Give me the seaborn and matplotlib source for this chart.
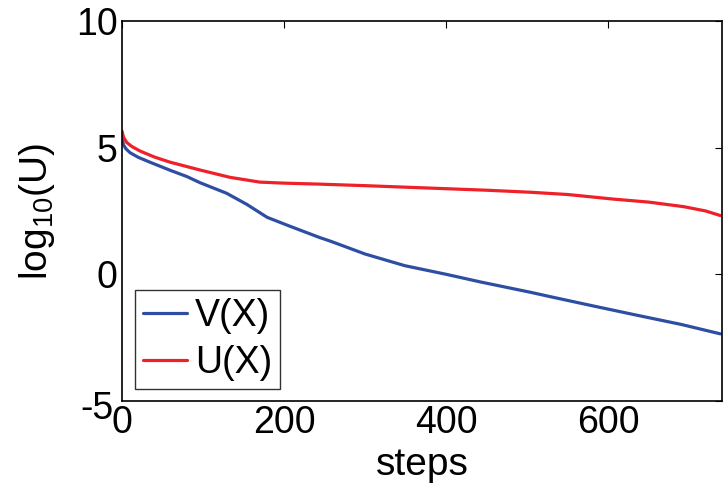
import numpy as np
import pandas as pd
import matplotlib
matplotlib.use("Agg")
import matplotlib.pyplot as plt
import seaborn as sns
from matplotlib.lines import Line2D

steps_v = [0, 2, 5, 10, 20, 35, 60, 80, 96, 129, 154, 179, 207, 244, 257, 300, 349, 400, 442, 504, 528, 580, 633, 690, 738]
v_vals = [5.35, 5.1, 4.95, 4.8, 4.62, 4.42, 4.1, 3.86, 3.62, 3.2, 2.76, 2.25, 1.9, 1.45, 1.31, 0.8, 0.34, 0.0, -0.3, -0.71, -0.88, -1.24, -1.6, -1.98, -2.35]
steps_u = [0, 2, 6, 12, 22, 40, 59, 96, 133, 170, 200, 244, 300, 350, 400, 450, 504, 550, 606, 650, 693, 720, 738]
u_vals = [5.65, 5.4, 5.2, 5.05, 4.87, 4.63, 4.43, 4.12, 3.83, 3.64, 3.6, 3.56, 3.5, 3.44, 3.38, 3.32, 3.24, 3.15, 2.97, 2.85, 2.67, 2.5, 2.32]
series_names = ["V(X)", "U(X)"]
x_ticks = [0, 200, 400, 600]
y_ticks = [-5, 0, 5, 10]

df = pd.concat([
    pd.DataFrame({"steps": steps_v, "val": v_vals, "series": series_names[0]}),
    pd.DataFrame({"steps": steps_u, "val": u_vals, "series": series_names[1]}),
])

sns.set_theme(style="white")
plt.rcParams["font.family"] = ["Liberation Sans", "DejaVu Sans"]
plt.rcParams["mathtext.default"] = "regular"
plt.rcParams["text.color"] = "black"
plt.rcParams["axes.labelcolor"] = "black"
plt.rcParams["axes.unicode_minus"] = False

blue = "#2d4ea3"
red = "#ee2028"

fig = plt.figure(figsize=(7.23, 4.87), dpi=100)
ax = fig.add_axes([122/723, 86/487, 600/723, 380/487])
sns.lineplot(data=df, x="steps", y="val", hue="series",
             palette={"V(X)": blue, "U(X)": red},
             linewidth=2.3, ax=ax, legend=False)

ax.set_xlim(0, 740)
ax.set_ylim(-5, 10)
ax.set_xticks(x_ticks)
ax.set_yticks(y_ticks)
ax.tick_params(direction="in", length=5, width=0.8, top=True, right=True,
               labelsize=27, colors="black", pad=3)
for s in ax.spines.values():
    s.set_color("black")
    s.set_linewidth(1.2)
ax.set_xlabel("steps", fontsize=28, labelpad=4)
ax.set_ylabel("log$_{10}$(U)", fontsize=28, labelpad=14)

# nudge the lowest y tick label ("-5") slightly down-left as in the reference
import matplotlib.transforms as mtransforms
fig.canvas.draw()
lbl = ax.get_yticklabels()[0]
lbl.set_transform(lbl.get_transform() + mtransforms.ScaledTranslation(-4/100, -4/100, fig.dpi_scale_trans))

handles = [Line2D([], [], color=blue, lw=2.3), Line2D([], [], color=red, lw=2.3)]
leg = ax.legend(handles, series_names, loc="lower left", bbox_to_anchor=(0.021, 0.031),
                fontsize=27, frameon=True, fancybox=False, edgecolor="black",
                handlelength=1.17, handletextpad=0.22, borderpad=0.22, labelspacing=0.28,
                borderaxespad=0)
leg.get_frame().set_linewidth(1.0)

fig.savefig("out.png", dpi=100)
